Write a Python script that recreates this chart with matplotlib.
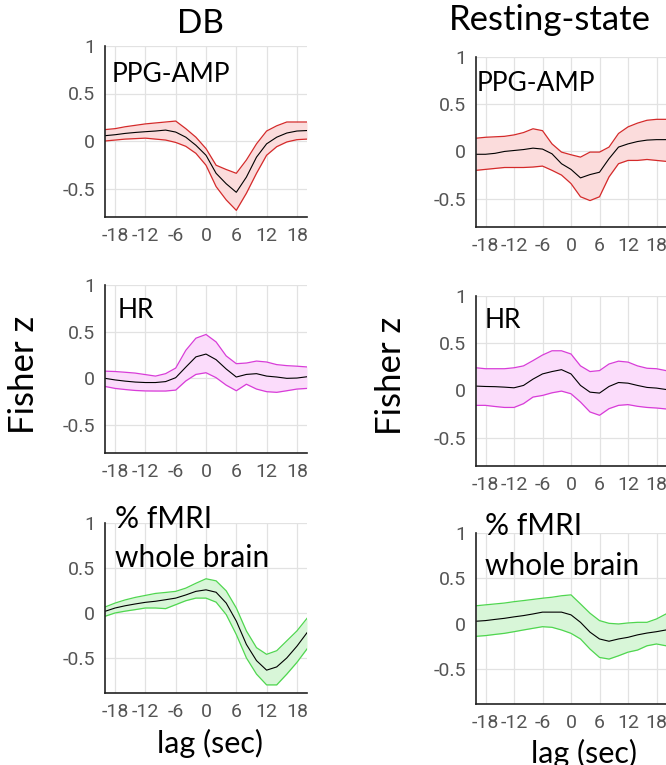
import numpy as np
import matplotlib
matplotlib.use("Agg")
import matplotlib.pyplot as plt

plt.rcParams["axes.unicode_minus"] = False

# lag axis (sec), sampled every 2 s
lag = np.arange(-20, 21, 2)

# DB - PPG amplitude
db_ppg_mean = [0.056, 0.066, 0.08, 0.09, 0.098, 0.105, 0.115, 0.094, 0.04, -0.045, -0.15,
               -0.34, -0.45, -0.54, -0.38, -0.17, -0.03, 0.04, 0.084, 0.105, 0.11]
db_ppg_hi = [0.12, 0.13, 0.15, 0.165, 0.18, 0.19, 0.2, 0.21, 0.13, 0.04, -0.08,
             -0.255, -0.30, -0.34, -0.2, -0.03, 0.105, 0.16, 0.2, 0.2, 0.2]
db_ppg_lo = [0.0, 0.01, 0.02, 0.025, 0.03, 0.02, 0.01, -0.015, -0.056, -0.13, -0.255,
             -0.48, -0.62, -0.73, -0.55, -0.34, -0.15, -0.06, -0.01, 0.014, 0.02]

# Resting-state - PPG amplitude
rs_ppg_mean = [-0.03, -0.03, -0.02, 0.0, 0.01, 0.02, 0.035, 0.025, -0.025, -0.13, -0.19,
               -0.28, -0.245, -0.22, -0.077, 0.046, 0.08, 0.105, 0.12, 0.125, 0.125]
rs_ppg_hi = [0.14, 0.15, 0.155, 0.16, 0.175, 0.2, 0.24, 0.22, 0.08, -0.007, -0.035,
             -0.06, -0.007, -0.007, 0.046, 0.19, 0.26, 0.3, 0.33, 0.34, 0.34]
rs_ppg_lo = [-0.2, -0.19, -0.18, -0.17, -0.17, -0.17, -0.165, -0.155, -0.2, -0.25, -0.34,
             -0.48, -0.52, -0.48, -0.27, -0.13, -0.095, -0.095, -0.085, -0.095, -0.105]

# DB - heart rate
db_hr_mean = [0.0, -0.017, -0.03, -0.04, -0.045, -0.045, -0.035, 0.007, 0.12, 0.23, 0.26,
              0.2, 0.1, 0.014, 0.042, 0.05, 0.024, 0.014, 0.0, 0.003, 0.017]
db_hr_hi = [0.077, 0.073, 0.065, 0.056, 0.04, 0.024, 0.05, 0.11, 0.3, 0.43, 0.47,
            0.39, 0.24, 0.157, 0.164, 0.185, 0.175, 0.147, 0.136, 0.13, 0.122]
db_hr_lo = [-0.087, -0.108, -0.12, -0.13, -0.135, -0.136, -0.136, -0.126, -0.028, 0.042, 0.06,
            0.007, -0.073, -0.133, -0.063, -0.115, -0.143, -0.15, -0.133, -0.115, -0.108]

# Resting-state - heart rate
rs_hr_mean = [0.046, 0.042, 0.04, 0.035, 0.028, 0.053, 0.12, 0.175, 0.2, 0.22, 0.175,
              0.053, -0.018, -0.028, 0.042, 0.084, 0.077, 0.053, 0.032, 0.025, 0.01]
rs_hr_hi = [0.24, 0.23, 0.23, 0.23, 0.24, 0.26, 0.316, 0.375, 0.42, 0.42, 0.386,
            0.26, 0.2, 0.21, 0.28, 0.31, 0.3, 0.26, 0.235, 0.23, 0.21]
rs_hr_lo = [-0.158, -0.158, -0.17, -0.18, -0.18, -0.14, -0.07, -0.053, -0.025, -0.007, -0.035,
            -0.123, -0.228, -0.263, -0.193, -0.158, -0.15, -0.168, -0.18, -0.186, -0.196]

# DB - whole brain fMRI
db_wb_mean = [0.018, 0.055, 0.08, 0.1, 0.118, 0.13, 0.147, 0.165, 0.2, 0.24, 0.257,
              0.23, 0.11, -0.09, -0.35, -0.53, -0.636, -0.6, -0.5, -0.37, -0.22]
db_wb_hi = [0.066, 0.11, 0.145, 0.173, 0.195, 0.217, 0.228, 0.24, 0.276, 0.33, 0.38,
            0.357, 0.246, 0.055, -0.2, -0.386, -0.46, -0.42, -0.31, -0.2, -0.06]
db_wb_lo = [-0.037, 0.0, 0.02, 0.037, 0.055, 0.055, 0.048, 0.092, 0.136, 0.165, 0.165,
            0.12, -0.018, -0.24, -0.5, -0.68, -0.8, -0.8, -0.68, -0.55, -0.4]

# Resting-state - whole brain fMRI
rs_wb_mean = [0.03, 0.037, 0.05, 0.062, 0.078, 0.092, 0.11, 0.13, 0.13, 0.13, 0.1,
              0.018, -0.09, -0.165, -0.19, -0.165, -0.147, -0.12, -0.1, -0.085, -0.066]
rs_wb_hi = [0.2, 0.21, 0.22, 0.23, 0.245, 0.257, 0.27, 0.283, 0.294, 0.31, 0.32,
            0.22, 0.118, 0.037, 0.007, 0.0, 0.011, 0.018, 0.018, 0.055, 0.11]
rs_wb_lo = [-0.136, -0.128, -0.115, -0.103, -0.085, -0.066, -0.048, -0.03, -0.037, -0.066, -0.103,
            -0.165, -0.276, -0.368, -0.386, -0.35, -0.31, -0.287, -0.24, -0.22, -0.24]

W, H = 666, 765

def px(x, y):
    # pixel position -> figure fraction
    return x / W, 1 - y / H

fig = plt.figure(figsize=(W / 100, H / 100), dpi=100)

text_font = "Lato"
tick_font = "Roboto"

panels = [
    # (left, top, right, bottom) in px, data, colours, ylim
    ((105, 46, 307, 217), db_ppg_mean, db_ppg_hi, db_ppg_lo, "#d42a2a", "#fbdcdc", -0.8),
    ((476, 57, 666, 227), rs_ppg_mean, rs_ppg_hi, rs_ppg_lo, "#d42a2a", "#fbdcdc", -0.8),
    ((105, 285, 307, 453), db_hr_mean, db_hr_hi, db_hr_lo, "#d83cd8", "#fbdcfb", -0.8),
    ((476, 296, 666, 466), rs_hr_mean, rs_hr_hi, rs_hr_lo, "#d83cd8", "#fbdcfb", -0.8),
    ((105, 523, 307, 693), db_wb_mean, db_wb_hi, db_wb_lo, "#4fd64f", "#d8f6d8", -0.89),
    ((476, 533, 666, 704), rs_wb_mean, rs_wb_hi, rs_wb_lo, "#4fd64f", "#d8f6d8", -0.88),
]

for (l, t, r, b), mean, hi, lo, edge, face, ybot in panels:
    x0, y0 = px(l, b)
    ax = fig.add_axes([x0, y0, (r - l) / W, (b - t) / H])
    ax.fill_between(lag, lo, hi, color=face, lw=0)
    ax.plot(lag, hi, color=edge, lw=0.9)
    ax.plot(lag, lo, color=edge, lw=0.9)
    ax.plot(lag, mean, color="black", lw=0.8)
    ax.set_xlim(-20, 20)
    ax.set_ylim(ybot, 1)
    ax.set_xticks([-18, -12, -6, 0, 6, 12, 18])
    ax.set_yticks([-0.5, 0, 0.5, 1])
    ax.set_yticklabels(["-0.5", "0", "0.5", "1"])
    ax.grid(True, color="#e2e2e2", lw=0.9)
    ax.set_axisbelow(True)
    for s in ["top", "right"]:
        ax.spines[s].set_visible(False)
    for s in ["left", "bottom"]:
        ax.spines[s].set_color("#222222")
        ax.spines[s].set_linewidth(1.2)
    ax.tick_params(length=0, labelsize=14, labelcolor="#555555", pad=7)
    for lab in ax.get_xticklabels() + ax.get_yticklabels():
        lab.set_fontfamily(tick_font)

# column titles
fig.text(*px(200, 24), "DB", fontsize=24, family=text_font, ha="center", va="center")
fig.text(*px(550, 20), "Resting-state", fontsize=25, family=text_font, ha="center", va="center")

# y labels
fig.text(*px(24, 375), "Fisher z", fontsize=25, family=text_font, rotation=90, ha="center", va="center")
fig.text(*px(391, 376), "Fisher z", fontsize=25, family=text_font, rotation=90, ha="center", va="center")

# x labels
fig.text(*px(210, 753), "lag (sec)", fontsize=22, family=text_font, ha="center", va="baseline")
fig.text(*px(584, 763), "lag (sec)", fontsize=22, family=text_font, ha="center", va="baseline")

# panel labels
fig.text(*px(112, 82), "PPG-AMP", fontsize=19, family=text_font, va="baseline")
fig.text(*px(477, 91), "PPG-AMP", fontsize=19, family=text_font, va="baseline")
fig.text(*px(118, 318), "HR", fontsize=19, family=text_font, va="baseline")
fig.text(*px(485, 328), "HR", fontsize=19, family=text_font, va="baseline")
fig.text(*px(115, 528), "% fMRI", fontsize=21.5, family=text_font, va="baseline")
fig.text(*px(115, 567), "whole brain", fontsize=21.5, family=text_font, va="baseline")
fig.text(*px(485, 535), "% fMRI", fontsize=21.5, family=text_font, va="baseline")
fig.text(*px(485, 575), "whole brain", fontsize=21.5, family=text_font, va="baseline")

fig.savefig("out.png", dpi=100)
